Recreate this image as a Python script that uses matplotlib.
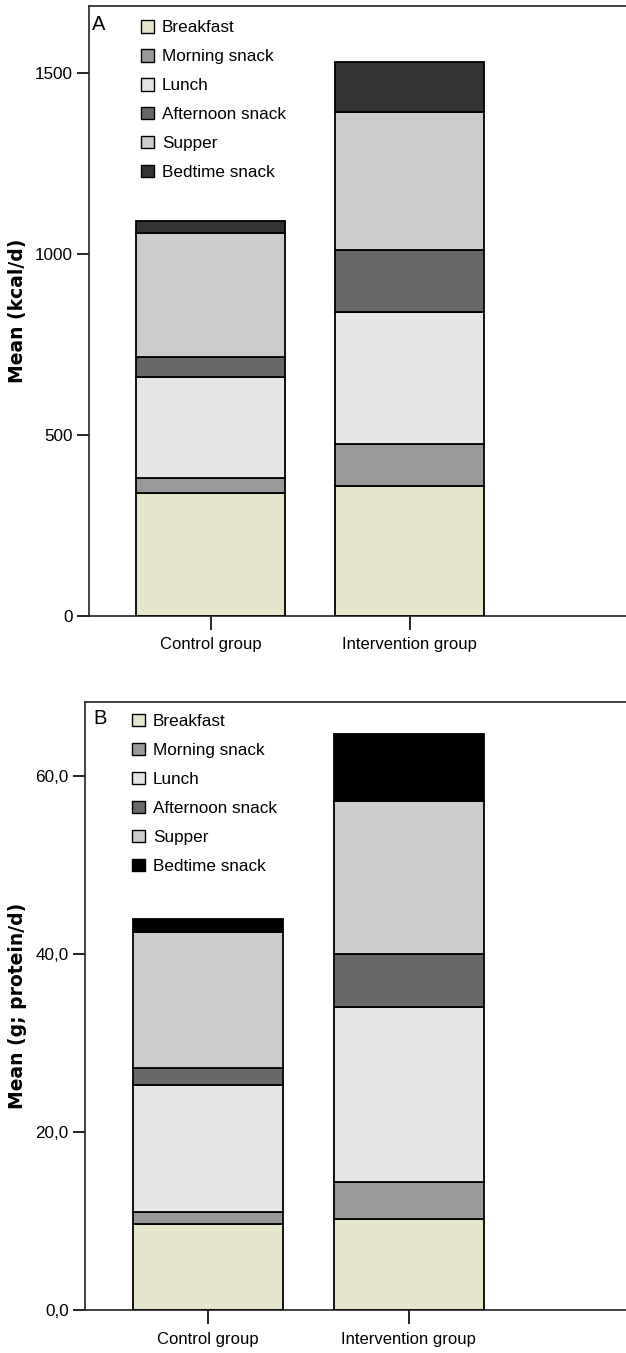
import matplotlib
matplotlib.use("Agg")
import matplotlib.pyplot as plt
from matplotlib.patches import Patch
import numpy as np

groups = ["Control group", "Intervention group"]
meals = ["Breakfast", "Morning snack", "Lunch", "Afternoon snack", "Supper", "Bedtime snack"]

# Panel A: energy (kcal/d), per meal, [control, intervention]
kcal_breakfast = [340, 359]
kcal_morning = [40, 115]
kcal_lunch = [278, 364]
kcal_afternoon = [57, 172]
kcal_supper = [342, 381]
kcal_bedtime = [33, 137]

# Panel B: protein (g/d)
prot_breakfast = [9.7, 10.2]
prot_morning = [1.3, 4.2]
prot_lunch = [14.3, 19.6]
prot_afternoon = [1.9, 6.0]
prot_supper = [15.2, 17.2]
prot_bedtime = [1.5, 7.5]

colors_a = ["#E5E5CC", "#999999", "#E5E5E5", "#686868", "#CCCCCC", "#333333"]
colors_b = ["#E5E5CC", "#999999", "#E5E5E5", "#686868", "#CCCCCC", "#000000"]

yticks_a = [0, 500, 1000, 1500]
yticklabels_a = ["0", "500", "1000", "1500"]
yticks_b = [0, 20, 40, 60]
yticklabels_b = ["0,0", "20,0", "40,0", "60,0"]

FONT = ["Liberation Sans", "DejaVu Sans"]

W, H = 626, 1353
fig = plt.figure(figsize=(W / 100, H / 100), dpi=100)


def make_panel(rect, series, colors, xlim, ylim, yticks, yticklabels, ylabel, letter,
               letter_pos, leg_anchor, ylabel_x):
    ax = fig.add_axes(rect)
    x = np.arange(len(groups))
    bottom = np.zeros(len(groups))
    for vals, c, name in zip(series, colors, meals):
        ax.bar(x, vals, width=0.75, bottom=bottom, color=c, edgecolor="black",
               linewidth=1.3, label=name, zorder=3)
        bottom = bottom + np.array(vals)
    ax.set_xlim(*xlim)
    ax.set_ylim(*ylim)
    ax.set_xticks(x)
    ax.set_xticklabels(groups, family=FONT, fontsize=12)
    ax.set_yticks(yticks)
    ax.set_yticklabels(yticklabels, family=FONT, fontsize=12.3)
    ax.tick_params(axis="y", length=9, width=1.2, pad=3, colors="black")
    ax.tick_params(axis="x", length=10, width=1.2, pad=5.5, colors="black")
    for s in ["left", "bottom", "top"]:
        ax.spines[s].set_linewidth(1.2)
        ax.spines[s].set_color("#222222")
    ax.spines["right"].set_visible(False)
    ax.set_ylabel(ylabel, family="DejaVu Sans", fontweight="bold", fontsize=13.5)
    ax.yaxis.set_label_coords(ylabel_x, 0.5)
    ax.text(letter_pos[0], letter_pos[1], letter, transform=ax.transAxes, family=FONT,
            fontsize=14.5, va="center", ha="center")
    handles = [Patch(facecolor=c, edgecolor="black", linewidth=1.0) for c in colors]
    ax.legend(handles, meals, loc="upper left", bbox_to_anchor=leg_anchor, frameon=False,
              prop={"family": FONT, "size": 12.3}, handlelength=0.76, handleheight=0.76,
              handletextpad=0.45, labelspacing=0.8, borderpad=0, borderaxespad=0)
    return ax


series_a = [kcal_breakfast, kcal_morning, kcal_lunch, kcal_afternoon, kcal_supper, kcal_bedtime]
series_b = [prot_breakfast, prot_morning, prot_lunch, prot_afternoon, prot_supper, prot_bedtime]

# Panel A
left_a = 89.3 / W
rect_a = [left_a, 1 - 615.7 / H, 1 - left_a, (615.7 - 6) / H]
make_panel(rect_a, series_a, colors_a, (-0.610, 2.087), (0, 1684),
           yticks_a, yticklabels_a, "Mean (kcal/d)", "A", (0.018, 0.969),
           (0.097, 0.977), -0.116)

# Panel B
left_b = 85.3 / W
rect_b = [left_b, 1 - 1310 / H, 1 - left_b, (1310 - 701.7) / H]
make_panel(rect_b, series_b, colors_b, (-0.614, 2.085), (0, 68.3),
           yticks_b, yticklabels_b, "Mean (g; protein/d)", "B", (0.027, 0.9716),
           (0.087, 0.98), -0.108)

fig.savefig("out.png", dpi=100)
